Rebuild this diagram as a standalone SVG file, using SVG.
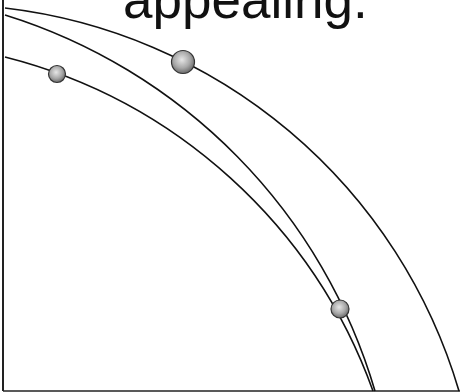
<svg xmlns="http://www.w3.org/2000/svg" width="460" height="392" viewBox="0 0 460 392">
  <style>
    .curve { fill: none; stroke: #111; stroke-width: 1.6; }
    .axis { stroke: #222; fill: none; }
    .dot { fill: url(#dotFill); stroke: #333; stroke-width: 1.2; }
    .title { font-family: "Liberation Sans", Arial, sans-serif; font-size: 53px; fill: #111; }
  </style>
  <defs>
    <radialGradient id="dotFill" cx="45%" cy="40%" r="60%">
      <stop offset="0" stop-color="#e6e6e6"/>
      <stop offset="0.6" stop-color="#a8a8a8"/>
      <stop offset="1" stop-color="#6a6a6a"/>
    </radialGradient>
  </defs>
  <rect width="460" height="392" fill="#ffffff"/>
  <g id="title">
    <text class="title" x="123" y="18">appealing.</text>
  </g>
  <g id="axes">
    <line class="axis" x1="3" y1="0" x2="3" y2="391" stroke-width="2"/>
    <line class="axis" x1="3" y1="391" x2="460" y2="391" stroke-width="1.5" stroke="#444"/>
  </g>
  <g id="connectors">
    <path id="curve-outer" class="curve" d="M 5 8 A 539 539 0 0 1 459 391"/>
    <path id="curve-middle" class="curve" d="M 5 15 A 558 558 0 0 1 375 391"/>
    <path id="curve-inner" class="curve" d="M 5 57 A 529.5 529.5 0 0 1 373 391"/>
  </g>
  <g id="dot-outer">
    <circle class="dot" cx="183" cy="62" r="11.5"/>
  </g>
  <g id="dot-inner">
    <circle class="dot" cx="57" cy="74" r="8.5"/>
  </g>
  <g id="dot-junction">
    <circle class="dot" cx="340" cy="309" r="9"/>
  </g>
</svg>
